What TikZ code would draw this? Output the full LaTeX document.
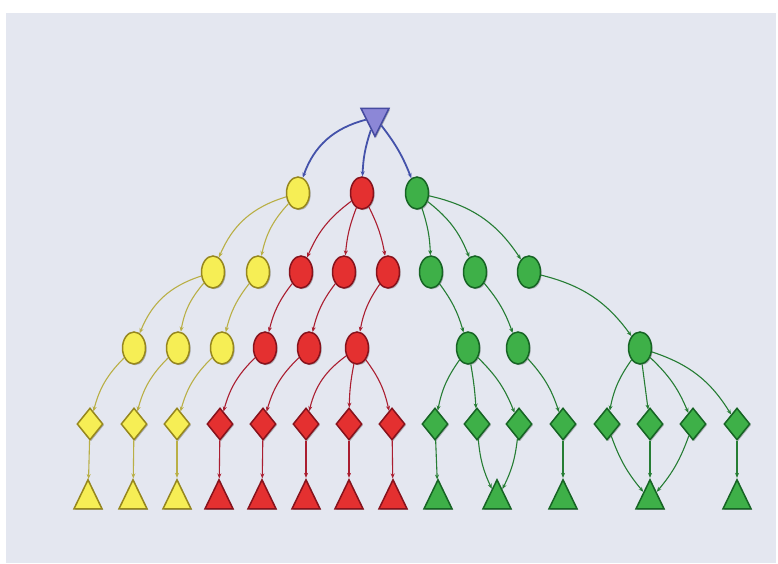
\documentclass[tikz,border=0pt]{standalone}
\usetikzlibrary{arrows.meta,shapes.geometric,shadows}
\definecolor{bgblue}{RGB}{228,231,240}
\definecolor{ylfill}{RGB}{246,238,85}
\definecolor{yldraw}{RGB}{150,135,30}
\definecolor{yledge}{RGB}{185,175,70}
\definecolor{rdfill}{RGB}{228,48,48}
\definecolor{rddraw}{RGB}{135,18,28}
\definecolor{rdedge}{RGB}{170,30,48}
\definecolor{gnfill}{RGB}{62,176,72}
\definecolor{gndraw}{RGB}{22,100,36}
\definecolor{gnedge}{RGB}{38,125,52}
\definecolor{rtfill}{RGB}{140,135,215}
\definecolor{rtdraw}{RGB}{70,75,160}
\definecolor{rtedge}{RGB}{68,82,170}

\begin{document}
\begin{tikzpicture}[x=1pt,y=-1pt,
  nodebase/.style={inner sep=0pt, line width=1.5pt,
    drop shadow={shadow xshift=1.2pt, shadow yshift=-1.2pt, opacity=0.25, fill=black}},
  ell/.style={nodebase, ellipse, minimum width=23pt, minimum height=32pt},
  dia/.style={nodebase, diamond, minimum width=26pt, minimum height=32pt},
  tri/.style={nodebase, isosceles triangle, shape border rotate=90,
    isosceles triangle stretches, minimum width=28pt, minimum height=29pt},
  yl/.style={fill=ylfill, draw=yldraw},
  rd/.style={fill=rdfill, draw=rddraw},
  gn/.style={fill=gnfill, draw=gndraw},
  arr/.style={-{Stealth[length=5pt,width=4pt]}, line width=1.1pt}]
\useasboundingbox (0,0) rectangle (778,563);
\fill[bgblue] (6,13) rectangle (776,563);

% root
\node[nodebase, isosceles triangle, shape border rotate=270, isosceles triangle stretches,
      minimum width=28pt, minimum height=28pt, fill=rtfill, draw=rtdraw] (root) at (375,117) {};

% ellipses
\foreach \n/\x/\y in {y1/298/193, y21/213/272, y22/258/272, y31/134/348, y32/178/348, y33/222/348}
  \node[ell, yl] (\n) at (\x,\y) {};
\foreach \n/\x/\y in {r1/362/193, r21/301/272, r22/344/272, r23/388/272, r31/265/348, r32/309/348, r33/357/348}
  \node[ell, rd] (\n) at (\x,\y) {};
\foreach \n/\x/\y in {g1/417/193, g21/431/272, g22/475/272, g23/529/272, g31/468/348, g32/518/348, g33/640/348}
  \node[ell, gn] (\n) at (\x,\y) {};

% diamonds
\foreach \n/\x in {d1/90, d2/134, d3/177}
  \node[dia, yl] (\n) at (\x,424) {};
\foreach \n/\x in {d4/220, d5/263, d6/306, d7/349, d8/392}
  \node[dia, rd] (\n) at (\x,424) {};
\foreach \n/\x in {d9/435, d10/477, d11/519, d12/563, d13/607, d14/650, d15/693, d16/737}
  \node[dia, gn] (\n) at (\x,424) {};

% triangles
\foreach \n/\x in {t1/88, t2/133, t3/177}
  \node[tri, yl] (\n) at (\x,500) {};
\foreach \n/\x in {t4/219, t5/262, t6/306, t7/349, t8/393}
  \node[tri, rd] (\n) at (\x,500) {};
\foreach \n/\x in {t9/438, t10/497, t11/563, t12/650, t13/737}
  \node[tri, gn] (\n) at (\x,500) {};

% edges
\foreach \a/\b/\c in {root/y1/-28, root/r1/-8, root/g1/8}
  \draw[arr, rtedge, line width=1.8pt] (\a) to[bend left=\c] (\b);
\foreach \a/\b/\c in {y1/y21/-25, y1/y22/-15, y21/y31/-25, y21/y32/-15, y22/y33/-12,
                      y31/d1/-15, y32/d2/-15, y33/d3/-15, d1/t1/0, d2/t2/0, d3/t3/0}
  \draw[arr, yledge] (\a) to[bend left=\c] (\b);
\foreach \a/\b/\c in {r1/r21/-15, r1/r22/-8, r1/r23/8, r21/r31/-12, r22/r32/-12, r23/r33/-12,
                      r31/d4/-15, r32/d5/-15, r33/d6/-20, r33/d7/-5, r33/d8/12,
                      d4/t4/0, d5/t5/0, d6/t6/0, d7/t7/0, d8/t8/0}
  \draw[arr, rdedge] (\a) to[bend left=\c] (\b);
\foreach \a/\b/\c in {g1/g21/8, g1/g22/15, g1/g23/22, g21/g31/10, g22/g32/10, g23/g33/20,
                      g31/d9/-12, g31/d10/3, g31/d11/12, g32/d12/12,
                      g33/d13/-12, g33/d14/0, g33/d15/12, g33/d16/20,
                      d9/t9/0, d10/t10/-10, d11/t10/10, d12/t11/0,
                      d13/t12/-10, d14/t12/0, d15/t12/10, d16/t13/0}
  \draw[arr, gnedge] (\a) to[bend left=\c] (\b);
\end{tikzpicture}
\end{document}
